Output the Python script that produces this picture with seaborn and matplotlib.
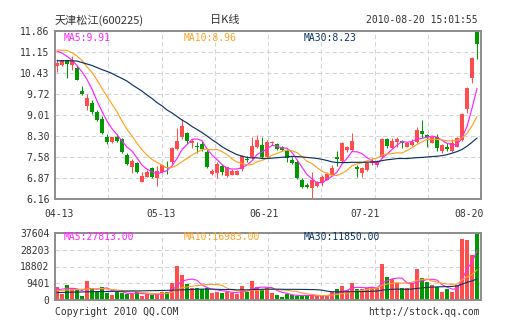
import numpy as np
import pandas as pd
import matplotlib
matplotlib.use("Agg")
import matplotlib.pyplot as plt
import matplotlib.transforms as mtransforms
import seaborn as sns

# ---- daily bars: 天津松江 (600225) ----
opens = [10.67, 10.70, 10.87, 10.70, 10.61, 9.82, 9.30, 9.42, 9.12, 8.88,
         8.26, 8.09, 8.28, 8.18, 7.65, 7.26, 7.38, 6.74, 6.91, 7.20,
         6.86, 7.08, 7.26, 7.40, 7.84, 8.25, 8.39, 8.05, 7.97, 8.01,
         7.75, 7.02, 7.03, 7.29, 6.95, 6.98, 6.99, 7.18, 7.53, 7.57,
         7.92, 7.99, 7.57, 8.06, 8.01, 7.91, 7.80, 7.50, 7.42, 6.80,
         6.65, 6.54, 6.60, 6.69, 6.82, 6.97, 7.57, 7.46, 7.82, 7.82,
         7.26, 7.03, 7.14, 7.37, 7.31, 7.57, 8.19, 7.88, 8.10, 8.13,
         7.93, 7.99, 8.10, 8.48, 8.33, 8.07, 8.27, 7.80, 7.91, 7.80,
         7.93, 8.16, 9.20, 10.26, 11.84]
highs = [10.90, 10.89, 10.88, 11.01, 10.66, 9.98, 9.71, 9.52, 9.18, 8.96,
         8.35, 8.28, 8.35, 8.23, 7.72, 7.52, 7.42, 7.08, 7.13, 7.26,
         7.28, 7.36, 7.45, 7.92, 8.57, 8.86, 8.45, 8.21, 8.10, 8.14,
         7.81, 7.18, 7.43, 7.35, 7.26, 7.18, 7.14, 7.65, 7.63, 8.25,
         8.33, 8.25, 8.16, 8.14, 8.06, 7.96, 7.84, 7.60, 7.48, 6.87,
         6.70, 7.06, 6.77, 6.99, 7.08, 7.31, 7.79, 8.10, 7.96, 8.41,
         7.31, 7.25, 7.39, 7.54, 7.50, 8.22, 8.22, 8.22, 8.25, 8.16,
         8.10, 8.19, 8.59, 8.84, 8.37, 8.30, 8.37, 8.02, 8.05, 8.19,
         8.25, 9.09, 9.97, 10.97, 11.86]
lows = [10.48, 10.66, 10.28, 10.54, 10.19, 9.70, 9.18, 9.04, 8.79, 8.37,
        8.02, 8.06, 8.09, 7.72, 7.33, 7.03, 7.03, 6.74, 6.90, 6.86,
        6.61, 7.04, 7.01, 7.36, 7.82, 8.18, 8.03, 7.89, 7.71, 7.80,
        7.21, 6.96, 6.87, 6.99, 6.92, 6.96, 6.97, 7.11, 7.43, 7.53,
        7.89, 7.55, 7.55, 7.99, 7.81, 7.79, 7.43, 7.35, 6.84, 6.55,
        6.53, 6.16, 6.57, 6.60, 6.79, 6.94, 7.28, 7.43, 7.75, 7.80,
        6.92, 6.92, 7.12, 7.31, 7.26, 7.54, 7.88, 7.85, 7.93, 7.88,
        7.91, 7.96, 8.07, 8.22, 7.91, 8.05, 7.80, 7.71, 7.80, 7.76,
        7.91, 8.14, 9.07, 10.09, 10.90]
closes = [10.78, 10.87, 10.75, 10.83, 10.21, 9.71, 9.58, 9.11, 8.84, 8.40,
          8.11, 8.25, 8.13, 7.75, 7.36, 7.45, 7.06, 6.93, 7.07, 6.90,
          7.12, 7.32, 7.21, 7.88, 8.14, 8.65, 8.14, 8.12, 7.94, 7.86,
          7.23, 7.11, 7.36, 7.08, 7.23, 7.11, 7.11, 7.61, 7.50, 7.95,
          8.16, 7.58, 8.11, 8.09, 7.84, 7.82, 7.55, 7.38, 6.87, 6.58,
          6.57, 6.82, 6.72, 6.91, 7.02, 7.20, 7.51, 8.07, 7.92, 8.14,
          7.17, 7.20, 7.37, 7.46, 7.45, 8.19, 7.96, 8.14, 8.19, 8.06,
          8.07, 8.10, 8.50, 8.36, 8.25, 8.27, 7.88, 7.99, 7.85, 8.06,
          8.22, 9.04, 9.94, 10.93, 11.42]
volumes = [7470, 3370, 8420, 6550, 5610, 2250, 10660, 6550, 5240, 7480,
           4120, 2810, 4680, 4120, 3370, 3370, 4680, 2250, 3370, 2810,
           3370, 4680, 4680, 9730, 19270, 14030, 8980, 6550, 6550, 6200,
           6900, 4120, 4680, 4120, 4400, 4120, 3370, 7860, 4680, 10660,
           7480, 5610, 6920, 4120, 2810, 1870, 3180, 2810, 2250, 2400,
           2250, 2810, 2250, 2400, 2810, 4520, 6400, 7880, 5450, 9380,
           6400, 6010, 6950, 7320, 6950, 20110, 12920, 11630, 9760, 6950,
           6950, 9760, 17640, 12560, 10130, 8200, 7500, 4400, 5900, 4765,
           8200, 34300, 33900, 25061, 37604]

# moving-average values before enough bars exist inside the window
ma5_head = [11.18, 11.11, 11.00, 10.87]
ma10_head = [11.21, 11.21, 11.20, 11.12, 11.01, 10.86, 10.65, 10.45, 10.20]
ma30_head = [10.85, 10.85, 10.85, 10.85, 10.84, 10.79, 10.74, 10.69, 10.62, 10.55,
             10.49, 10.42, 10.33, 10.25, 10.16, 10.04, 9.93, 9.82, 9.69, 9.57,
             9.43, 9.32, 9.18, 9.08, 8.96, 8.84, 8.74, 8.62, 8.52]
vma5_head = [5800, 6100, 6500, 6600]
vma10_head = [5300, 5400, 5600, 5700, 5900, 6000, 6200, 6300, 6400]
vma30_head = [4200, 4250, 4300, 4400, 4450, 4500, 4600, 4650, 4700, 4750,
              4800, 4850, 4900, 4950, 5000, 5050, 5100, 5150, 5200, 5250,
              5300, 5350, 5400, 5500, 5600, 5700, 5800, 5900, 6000]

date_labels = ["04-13", "05-13", "06-21", "07-21", "08-20"]
date_pos = [0.5, 20.8, 41.4, 61.6, 82.4]
price_ticks = ["6.16", "6.87", "7.58", "8.30", "9.01", "9.72", "10.43", "11.15", "11.86"]
volume_ticks = ["0", "9401", "18802", "28203", "37604"]

UP, DOWN = "#ff4d4d", "#009a00"
C_MA5, C_MA10, C_MA30 = "#ff22ff", "#ffa21f", "#0c3462"
TXT, GRID, FRAME = "#333333", "#d2d2d2", "#8c8c8c"


def moving_average(values, window, head):
    s = pd.Series(values, dtype=float).rolling(window).mean()
    s.iloc[:window - 1] = head
    return s.to_numpy()


n = len(closes)
idx = np.arange(n)
o, h, l, c = map(np.asarray, (opens, highs, lows, closes))
rising = c >= o
colors = np.where(rising, UP, DOWN)

ma5 = moving_average(closes, 5, ma5_head)
ma10 = moving_average(closes, 10, ma10_head)
ma30 = moving_average(closes, 30, ma30_head)
vma5 = moving_average(volumes, 5, vma5_head)
vma10 = moving_average(volumes, 10, vma10_head)
vma30 = moving_average(volumes, 30, vma30_head)

df = pd.DataFrame({"idx": idx, "volume": volumes,
                   "direction": np.where(rising, "up", "down")})

sns.set_theme(style="white")
plt.rcParams["font.family"] = ["DejaVu Sans Mono", "Noto Sans CJK SC"]

W, H = 505, 330
fig = plt.figure(figsize=(W / 100, H / 100), dpi=100)
fig.patch.set_facecolor("white")


def box(left, top, right, bottom):
    return [left / W, 1 - bottom / H, (right - left) / W, (bottom - top) / H]


ax = fig.add_axes(box(55, 31, 481, 199))
axv = fig.add_axes(box(55, 233, 481, 300))

xmin, xmax = -0.4, n - 0.2
vgrid = np.linspace(xmin, xmax, 9)[1:-1]

for a in (ax, axv):
    a.set_xlim(xmin, xmax)
    a.set_axisbelow(True)
    a.set_xticks(vgrid)
    a.set_xticklabels([])
    a.grid(True, color=GRID, linestyle=(0, (4, 3)), linewidth=0.75)
    a.tick_params(axis="both", length=0, pad=4, labelsize=7, labelcolor=TXT)
    for sp in a.spines.values():
        sp.set_color(FRAME)
        sp.set_linewidth(1.4)

# ---- candlesticks ----
lo, hi = l.min(), h.max()
ax.set_ylim(lo, hi)
ax.set_yticks(np.linspace(lo, hi, 9))
ax.set_yticklabels(price_ticks)
ax.vlines(idx, l, h, colors=colors, linewidth=0.75, zorder=2)
body = np.maximum(np.abs(c - o), 0.03)
ax.bar(idx, body, bottom=np.minimum(o, c), width=0.8, color=colors,
       linewidth=0, zorder=3)
for vals, col in ((ma5, C_MA5), (ma10, C_MA10), (ma30, C_MA30)):
    sns.lineplot(x=idx, y=vals, color=col, linewidth=0.85, ax=ax, zorder=4)
ax.set_xlabel("")
ax.set_ylabel("")

# ---- volume ----
sns.barplot(data=df, x="idx", y="volume", hue="direction",
            palette={"up": UP, "down": DOWN}, native_scale=True, dodge=False,
            width=0.8, saturation=1, linewidth=0, errorbar=None,
            legend=False, ax=axv, zorder=2)
for vals, col in ((vma5, C_MA5), (vma10, C_MA10), (vma30, C_MA30)):
    sns.lineplot(x=idx, y=vals, color=col, linewidth=0.8, ax=axv, zorder=4)
vmax = max(volumes)
axv.set_xlim(xmin, xmax)
axv.set_xticks(vgrid)
axv.set_xticklabels([])
axv.set_ylim(0, vmax)
axv.set_yticks(np.linspace(0, vmax, 5))
axv.set_yticklabels(volume_ticks)
axv.set_xlabel("")
axv.set_ylabel("")

# ---- texts ----
def fy(py):
    return 1 - py / H


fig.text(55 / W, fy(20), "天津松江(600225)", fontsize=8, color=TXT,
         va="center", ha="left", family=["Noto Sans CJK SC", "DejaVu Sans"])
fig.text(224.5 / W, fy(20), "日K线", fontsize=8, color=TXT,
         va="center", ha="center", family=["Noto Sans CJK SC", "DejaVu Sans"])
fig.text(478 / W, fy(20), "2010-08-20 15:01:55", fontsize=7, color=TXT,
         va="center", ha="right")

label_x = [64, 184, 304]
for x, txt, col in zip(label_x,
                       [f"MA5:{ma5[-1]:.2f}", f"MA10:{ma10[-1]:.2f}", f"MA30:{ma30[-1]:.2f}"],
                       [C_MA5, C_MA10, C_MA30]):
    fig.text(x / W, fy(38), txt, fontsize=7, color=col, va="center", ha="left")
for x, txt, col in zip(label_x,
                       [f"MA5:{vma5[-1]:.2f}", f"MA10:{vma10[-1]:.2f}", f"MA30:{vma30[-1]:.2f}"],
                       [C_MA5, C_MA10, C_MA30]):
    fig.text(x / W, fy(237), txt, fontsize=7, color=col, va="center", ha="left")

date_tf = mtransforms.blended_transform_factory(ax.transData, fig.transFigure)
for pos, txt in zip(date_pos, date_labels):
    ax.text(pos, fy(214), txt, transform=date_tf, fontsize=7, color=TXT,
            ha="center", va="center", clip_on=False)

fig.text(55 / W, fy(312), "Copyright 2010 QQ.COM", fontsize=7, color=TXT,
         va="center", ha="left")
fig.text(480 / W, fy(312), "http://stock.qq.com", fontsize=7, color=TXT,
         va="center", ha="right")

fig.savefig("out.png", dpi=100, facecolor="white")
